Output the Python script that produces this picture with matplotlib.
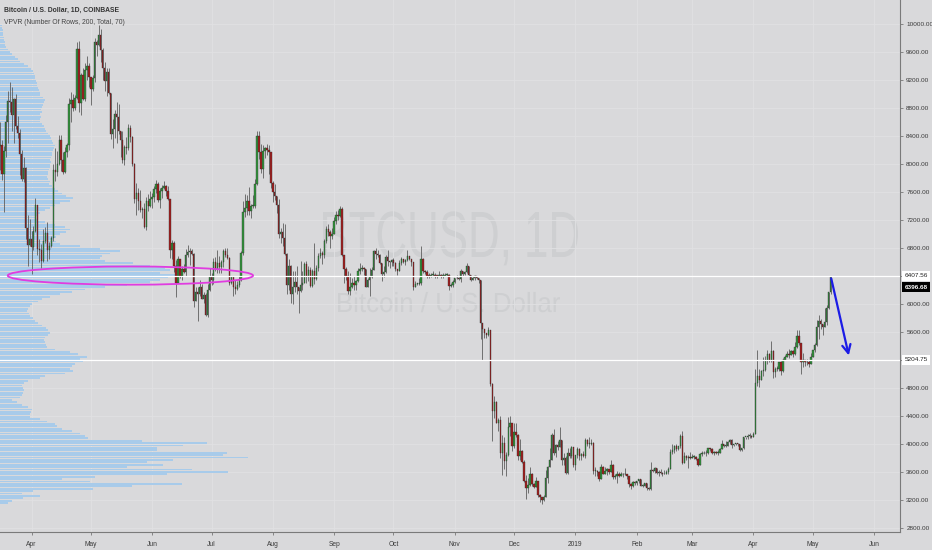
import numpy as np
import pandas as pd
import matplotlib
matplotlib.use("Agg")
import matplotlib.pyplot as plt
import matplotlib.dates as mdates
import matplotlib.transforms as mtransforms
from matplotlib.patches import Ellipse, PathPatch
from matplotlib.textpath import TextPath
from matplotlib.font_manager import FontProperties

# daily candles, BTC/USD Coinbase, 2018-03-16 .. 2019-05-10
dates = pd.date_range("2018-03-16", "2019-05-10", freq="D")
first_open = 8260
close = [
    # 2018 Mar 16-31
    8270, 7860, 8190, 8600, 8900, 8890, 8710, 8930, 8550, 8450, 8140, 7790, 7950, 7090, 6840, 6930,
    # Apr
    6820, 7050, 7420, 6790, 6780, 6620, 6900, 7020, 6770, 6830, 6940, 7920, 7890, 8000, 8350,
    8060, 7890, 8170, 8280, 8860, 8920, 8800, 8940, 9650, 8870, 9280, 8930, 9350, 9400, 9240,
    # May
    9080, 9230, 9750, 9700, 9850, 9630, 9370, 9190, 9320, 9020, 8430, 8500, 8720, 8680, 8480, 8340,
    8060, 8240, 8230, 8520, 8390, 8000, 7510, 7590, 7470, 7340, 7360, 7110, 7470, 7400, 7500,
    # Jun
    7530, 7640, 7720, 7490, 7620, 7660, 7690, 7620, 7510, 6770, 6880, 6550, 6310, 6640, 6400,
    6500, 6460, 6710, 6740, 6760, 6720, 6050, 6180, 6150, 6250, 6080, 6130, 5850, 6200, 6390,
    # Jul
    6350, 6610, 6510, 6590, 6530, 6600, 6760, 6710, 6660, 6300, 6390, 6250, 6220, 6270, 6350, 6730,
    7320, 7380, 7470, 7330, 7400, 7400, 7720, 8400, 8170, 7930, 8190, 8230, 8210, 8180, 7730,
    # Aug
    7600, 7540, 7420, 7010, 7030, 6940, 6720, 6280, 6540, 6150, 6240, 6320, 6250, 6190, 6270, 6310,
    6580, 6390, 6490, 6260, 6480, 6360, 6520, 6690, 6730, 6700, 6900, 7080, 7030, 6980, 7010,
    # Sep
    7190, 7280, 7260, 7360, 6700, 6510, 6400, 6190, 6240, 6300, 6280, 6330, 6480, 6500, 6520,
    6500, 6250, 6340, 6390, 6490, 6760, 6720, 6710, 6590, 6430, 6460, 6670, 6620, 6600, 6630,
    # Oct
    6590, 6510, 6480, 6590, 6640, 6600, 6630, 6690, 6650, 6610, 6250, 6290, 6290, 6300, 6650, 6480,
    6460, 6410, 6400, 6420, 6420, 6410, 6400, 6420, 6400, 6410, 6420, 6420, 6260, 6280, 6320,
    # Nov
    6370, 6380, 6360, 6480, 6430, 6460, 6550, 6420, 6350, 6380, 6400, 6380, 6350, 5730, 5650,
    5590, 5560, 5630, 4860, 4480, 4600, 4310, 4350, 3880, 4020, 3760, 3850, 4240, 4300, 3970,
    # Dec
    4180, 4130, 3830, 3910, 3740, 3470, 3380, 3420, 3570, 3430, 3390, 3480, 3270, 3240, 3200, 3240,
    3520, 3670, 3780, 4130, 3870, 3990, 3960, 4060, 3780, 3810, 3590, 3880, 3830, 3960, 3700,
    # 2019 Jan
    3840, 3930, 3830, 3860, 3830, 4060, 4000, 4010, 4020, 3620, 3620, 3600, 3500, 3670, 3580, 3620,
    3650, 3600, 3710, 3530, 3540, 3580, 3550, 3580, 3570, 3570, 3540, 3430, 3400, 3460, 3440,
    # Feb
    3470, 3500, 3410, 3410, 3440, 3370, 3360, 3630, 3620, 3660, 3590, 3610, 3590, 3570,
    3580, 3600, 3650, 3890, 3920, 3970, 3930, 3970, 4120, 3730, 3830, 3800, 3820, 3810,
    # Mar
    3820, 3820, 3790, 3710, 3860, 3870, 3880, 3870, 3940, 3930, 3870, 3890, 3880, 3880, 3930, 4000,
    3980, 3980, 4030, 4060, 3990, 4000, 4010, 4000, 3920, 3940, 4100, 4100, 4120, 4120, 4110,
    # Apr
    4150, 4880, 4980, 4920, 5040, 5060, 5210, 5290, 5200, 5330, 5030, 5080, 5080, 5170, 5040,
    5210, 5240, 5290, 5280, 5330, 5290, 5390, 5550, 5440, 5180, 5200, 5170, 5180, 5150, 5250,
    # May 1-10
    5340, 5420, 5680, 5760, 5720, 5680, 5740, 5940, 6170, 6396.68,
]
high = [
    8600, 8350, 8260, 8700, 9050, 9180, 9100, 8940, 9000, 8690, 8500, 8210, 8100, 7960, 7280, 7220,
    7050, 7120, 7520, 7420, 6930, 6860, 7080, 7110, 7180, 6890, 6980, 8000, 8230, 8190, 8420,
    8420, 8180, 8240, 8300, 8940, 9030, 9000, 8990, 9750, 9760, 9300, 9380, 9450, 9550, 9450,
    9250, 9270, 9800, 9770, 9990, 9930, 9660, 9460, 9380, 9370, 9020, 8640, 8770, 8890, 8860, 8480,
    8470, 8270, 8390, 8570, 8560, 8410, 8020, 7730, 7660, 7630, 7390, 7450, 7530, 7580, 7620,
    7590, 7690, 7780, 7750, 7660, 7700, 7760, 7700, 7690, 7510, 6920, 6900, 6630, 6690, 6650,
    6550, 6580, 6790, 6840, 6800, 6790, 6730, 6240, 6250, 6340, 6290, 6170, 6160, 6290, 6520,
    6440, 6660, 6680, 6780, 6690, 6630, 6790, 6800, 6800, 6680, 6400, 6390, 6340, 6330, 6400, 6760,
    7470, 7580, 7560, 7680, 7430, 7560, 7790, 8480, 8480, 8290, 8280, 8240, 8290, 8270, 8180,
    7760, 7720, 7540, 7500, 7090, 7160, 7150, 6730, 6640, 6560, 6470, 6480, 6550, 6250, 6620, 6480,
    6600, 6620, 6550, 6530, 6500, 6880, 6560, 6730, 6800, 6760, 6930, 7120, 7140, 7060, 7090,
    7250, 7330, 7340, 7400, 7390, 6700, 6530, 6470, 6440, 6370, 6400, 6350, 6520, 6590, 6560,
    6530, 6510, 6370, 6520, 6530, 6780, 6800, 6770, 6720, 6590, 6540, 6700, 6770, 6620, 6650,
    6660, 6600, 6510, 6630, 6670, 6650, 6650, 6780, 6690, 6650, 6610, 6330, 6310, 6370, 6830, 6660,
    6490, 6490, 6440, 6440, 6470, 6440, 6420, 6470, 6430, 6440, 6440, 6440, 6430, 6300, 6340,
    6380, 6420, 6390, 6500, 6480, 6480, 6590, 6550, 6420, 6400, 6420, 6410, 6380, 6350, 5730,
    5650, 5590, 5670, 5630, 4870, 4690, 4620, 4380, 4400, 4130, 4100, 3890, 4390, 4410, 4300,
    4300, 4300, 4140, 4080, 3920, 3780, 3560, 3520, 3670, 3590, 3450, 3530, 3480, 3290, 3240, 3270,
    3630, 3690, 3940, 4160, 4220, 4000, 4040, 4240, 4060, 3880, 3830, 3940, 3950, 3980, 3960,
    3850, 3960, 3940, 3880, 3900, 4090, 4070, 4110, 4070, 4030, 3680, 3630, 3620, 3720, 3690, 3670,
    3660, 3650, 3780, 3720, 3580, 3620, 3600, 3600, 3590, 3660, 3580, 3540, 3440, 3480, 3480,
    3480, 3510, 3500, 3430, 3450, 3440, 3390, 3740, 3640, 3670, 3660, 3630, 3650, 3600,
    3630, 3630, 3680, 3930, 4000, 3990, 4000, 3980, 4150, 4190, 3890, 3840, 3840, 3890,
    3860, 3840, 3830, 3800, 3880, 3900, 3900, 3920, 3950, 3940, 3940, 3900, 3900, 3920, 3940, 4060,
    4010, 4040, 4040, 4070, 4080, 4010, 4020, 4020, 4000, 3950, 4110, 4110, 4140, 4160, 4130,
    4170, 5080, 5350, 5080, 5060, 5250, 5260, 5340, 5300, 5480, 5340, 5100, 5120, 5180, 5190,
    5230, 5270, 5330, 5360, 5350, 5340, 5460, 5630, 5630, 5450, 5300, 5210, 5220, 5200, 5300,
    5350, 5440, 5780, 5840, 5790, 5720, 5950, 5990, 6180, 6407.56,
]
low = [
    7920, 7770, 7320, 8100, 8300, 8750, 8480, 8300, 8510, 8370, 7840, 7760, 7740, 6930, 6540, 6830,
    6430, 6770, 7030, 6710, 6600, 6520, 6610, 6880, 6620, 6650, 6820, 6900, 7760, 7830, 7990,
    7900, 7860, 7880, 8100, 8200, 8600, 8760, 8780, 8930, 8750, 8700, 8920, 8900, 9200, 9100,
    8850, 9050, 9180, 9550, 9690, 9460, 9200, 9050, 8980, 9000, 8360, 8230, 8380, 8300, 8430, 8100,
    8020, 7990, 8150, 8200, 8320, 7980, 7440, 7280, 7350, 7320, 7230, 7090, 7060, 7330, 7390,
    7370, 7460, 7590, 7460, 7380, 7520, 7640, 7550, 7490, 6660, 6650, 6460, 6110, 6300, 6370,
    6350, 6440, 6400, 6680, 6560, 6700, 5960, 6040, 5760, 6120, 6070, 6020, 5830, 5820, 6190,
    6280, 6290, 6480, 6440, 6450, 6450, 6530, 6680, 6640, 6280, 6290, 6120, 6150, 6200, 6250, 6330,
    6700, 7250, 7280, 7280, 7230, 7380, 7380, 7700, 8070, 7880, 7800, 8090, 8130, 7860, 7660,
    7460, 7490, 7300, 6940, 6880, 6830, 6700, 6150, 6200, 6020, 6010, 6170, 6150, 5880, 6180, 6210,
    6300, 6300, 6330, 6250, 6250, 6290, 6350, 6470, 6660, 6580, 6660, 6870, 6980, 6810, 6930,
    7000, 7140, 7210, 7240, 6690, 6300, 6350, 6140, 6130, 6230, 6200, 6210, 6320, 6430, 6480,
    6420, 6240, 6250, 6120, 6380, 6490, 6650, 6680, 6570, 6330, 6390, 6450, 6550, 6520, 6550,
    6550, 6480, 6420, 6480, 6560, 6590, 6560, 6620, 6630, 6550, 6210, 6250, 6270, 6270, 6280, 6440,
    6430, 6370, 6380, 6390, 6410, 6380, 6370, 6400, 6380, 6380, 6400, 6400, 6210, 6250, 6250,
    6310, 6360, 6340, 6320, 6400, 6420, 6450, 6400, 6330, 6350, 6350, 6360, 6300, 5500, 5200,
    5520, 5520, 5550, 4830, 4050, 4370, 4300, 4190, 3800, 3560, 3650, 3550, 3830, 4120, 3900,
    3950, 4100, 3780, 3780, 3730, 3460, 3220, 3300, 3400, 3400, 3370, 3390, 3250, 3180, 3140, 3190,
    3240, 3450, 3670, 3780, 3850, 3820, 3920, 3960, 3700, 3700, 3570, 3570, 3810, 3810, 3680,
    3630, 3810, 3780, 3780, 3820, 3810, 3980, 3940, 3990, 3580, 3550, 3550, 3480, 3500, 3570, 3580,
    3560, 3570, 3600, 3500, 3500, 3440, 3530, 3540, 3530, 3560, 3510, 3390, 3360, 3390, 3420,
    3420, 3440, 3400, 3390, 3400, 3350, 3350, 3350, 3600, 3590, 3580, 3550, 3570, 3550,
    3570, 3580, 3580, 3640, 3860, 3880, 3900, 3920, 3950, 3720, 3730, 3780, 3660, 3790,
    3810, 3790, 3770, 3690, 3700, 3830, 3860, 3830, 3860, 3900, 3860, 3840, 3860, 3840, 3880, 3930,
    3960, 3960, 3970, 4000, 3950, 3980, 3990, 3980, 3900, 3910, 3930, 4070, 4070, 4090, 4090,
    4100, 4140, 4830, 4820, 4920, 4970, 5050, 5150, 5180, 5170, 4950, 4960, 5050, 5050, 4990,
    5030, 5200, 5240, 5230, 5270, 5240, 5280, 5380, 5420, 5000, 5100, 5120, 5130, 5100, 5140,
    5250, 5320, 5400, 5500, 5650, 5560, 5690, 5700, 5930, 6150,
]

# VPVR, 200 rows from top (~10000) to bottom (~3142); widths read in chart pixels
vp_high, vp_low = 10000, 3142
vp_width = [
    2, 2, 3, 3, 3, 4, 4, 5, 5, 6,
    8, 10, 12, 15, 18, 20, 24, 28, 31, 33,
    34, 35, 35, 36, 37, 37, 38, 39, 40, 40,
    43, 45, 44, 43, 42, 41, 42, 40, 41, 40,
    40, 42, 44, 45, 46, 48, 50, 51, 52, 53,
    55, 54, 53, 52, 52, 51, 50, 51, 50, 50,
    49, 48, 48, 47, 48, 50, 49, 52, 55, 58,
    62, 66, 73, 70, 60, 55, 50, 45, 40, 38,
    35, 38, 45, 55, 65, 70, 66, 60, 56, 53,
    56, 60, 80, 100, 120, 110, 102, 100, 105, 133,
    150, 165, 170, 160, 175, 168, 160, 150, 127, 105,
    85, 72, 60, 50, 42, 38, 32, 30, 28, 27,
    29, 30, 33, 35, 38, 42, 46, 48, 50, 48,
    45, 44, 45, 46, 47, 55, 70, 78, 87, 80,
    83, 75, 72, 70, 73, 65, 45, 40, 28, 24,
    22, 23, 24, 23, 22, 20, 12, 17, 22, 28,
    32, 31, 30, 30, 40, 47, 55, 57, 62, 72,
    80, 85, 88, 142, 207, 183, 157, 157, 227, 223,
    248, 173, 147, 163, 127, 192, 228, 167, 95, 62,
    90, 182, 132, 93, 33, 22, 40, 23, 12, 8,
]

levels = [6407.56, 5204.75]
last_price = 6396.68
month_starts = pd.date_range("2018-04-01", "2019-06-01", freq="MS")
month_labels = ["Apr", "May", "Jun", "Jul", "Aug", "Sep", "Oct", "Nov", "Dec",
                "2019", "Feb", "Mar", "Apr", "May", "Jun"]
price_ticks = np.arange(2800, 10001, 400)

bg = "#d9d9db"
plt.rcParams["font.family"] = ["Liberation Sans", "DejaVu Sans"]

W, H = 932, 550
fig = plt.figure(figsize=(W / 100, H / 100), dpi=100, facecolor=bg)
ax = fig.add_axes([0, 18 / H, 900 / W, 532 / H], facecolor=bg)

x = mdates.date2num(dates)
o = np.array([first_open] + close[:-1], dtype=float)
c = np.array(close, dtype=float)
hi = np.maximum(np.array(high, dtype=float), np.maximum(o, c))
lo = np.minimum(np.array(low, dtype=float), np.minimum(o, c))

d0 = mdates.date2num(pd.Timestamp("2018-04-01"))
x0, x1 = d0 - 15.93, d0 + 439.08
ax.set_xlim(x0, x1)
ax.set_ylim(2747, 10347)

# volume profile
step = (vp_high - vp_low) / len(vp_width)
centers = vp_high - step * (np.arange(len(vp_width)) + 0.5)
days_per_px = (x1 - x0) / 900
ax.barh(centers, np.array(vp_width) * days_per_px, left=x0, height=step * 0.78,
        color="#a8cbea", edgecolor="none", zorder=1)

# candles
up = c >= o
ax.vlines(x, lo, hi, color="#5e5e5e", lw=0.6, zorder=3)
body = np.maximum(np.abs(c - o), 12)
ax.bar(x[up], body[up], bottom=np.minimum(o, c)[up], width=0.7,
       color="#33963d", edgecolor="#2a2a2a", lw=0.25, zorder=4)
ax.bar(x[~up], body[~up], bottom=np.minimum(o, c)[~up], width=0.7,
       color="#a41f1f", edgecolor="#2a2a2a", lw=0.25, zorder=4)


# watermark, squeezed into the box it takes in the picture (display pixels)
def watermark(text, left, right, cap_top, baseline):
    fp = FontProperties(family="Liberation Sans")
    tp = TextPath((0, 0), text, size=100, prop=fp)
    ext = tp.get_extents()
    cap = TextPath((0, 0), "B", size=100, prop=fp).get_extents().height
    sx = (right - left) / ext.width
    sy = (baseline - cap_top) / cap
    tr = mtransforms.Affine2D().scale(sx, sy).translate(left - ext.x0 * sx, H - baseline)
    ax.add_patch(PathPatch(tp, transform=tr, facecolor="#cecfd1", edgecolor="none", zorder=0.5))


watermark("BTCUSD, 1D", 323, 578, 212, 257)
watermark("Bitcoin / U.S. Dollar", 338, 560, 293, 312)

# horizontal levels
for lv in levels:
    ax.axhline(lv, color="white", lw=0.9, zorder=5)

# ellipse + arrow drawn on the chart
ell = Ellipse((mdates.date2num(pd.Timestamp("2018-05-21")), 6410), width=124, height=260,
              fill=False, edgecolor="#e03ce0", lw=1.3, zorder=6)
ax.add_patch(ell)
ax.annotate("", xy=(mdates.date2num(pd.Timestamp("2019-05-19 12:00")), 5230),
            xytext=(x[-1], 6407.56),
            arrowprops=dict(arrowstyle="->,head_length=0.6,head_width=0.3",
                            color="#1c1ce6", lw=1.6), zorder=7)

# grid and axes
ax.set_yticks(price_ticks)
ax.set_yticklabels(["" if t in (6400, 5200) else f"{t:.2f}" for t in price_ticks])
ax.set_xticks(mdates.date2num(month_starts))
ax.set_xticklabels(month_labels)
ax.grid(True, color="#e1e1e3", lw=0.6, zorder=0)
ax.set_axisbelow(True)
ax.yaxis.tick_right()
ax.tick_params(axis="y", length=2.5, width=0.6, color="#777777", labelsize=4.6,
               labelcolor="#3a3a3a", pad=2)
ax.tick_params(axis="x", length=2.5, width=0.6, color="#777777", labelsize=4.8,
               labelcolor="#3a3a3a", pad=4)
for s in ["left", "top"]:
    ax.spines[s].set_visible(False)
for s in ["right", "bottom"]:
    ax.spines[s].set_color("#7a7a7a")
    ax.spines[s].set_linewidth(0.8)

# price labels on the scale
trans = mtransforms.blended_transform_factory(ax.transAxes, ax.transData)
for lv in levels:
    ax.text(1.005, lv, f"{lv:.2f}", transform=trans, ha="left", va="center",
            fontsize=4.6, color="#222222", clip_on=False, zorder=8,
            bbox=dict(boxstyle="square,pad=0.4", fc="white", ec="none"))
ax.text(1.005, last_price - 150, f"{last_price:.2f}", transform=trans, ha="left",
        va="center", fontsize=4.6, color="white", fontweight="bold", clip_on=False,
        zorder=8, bbox=dict(boxstyle="square,pad=0.4", fc="black", ec="none"))

# legend text top-left
fig.text(4 / W, 1 - 10 / H, "Bitcoin / U.S. Dollar, 1D, COINBASE", fontsize=4.9,
         color="#333333", fontweight="bold", va="center", ha="left")
fig.text(4 / W, 1 - 22 / H, "VPVR (Number Of Rows, 200, Total, 70)", fontsize=4.9,
         color="#444444", va="center", ha="left")

plt.savefig("out.png", dpi=100, facecolor=bg)
